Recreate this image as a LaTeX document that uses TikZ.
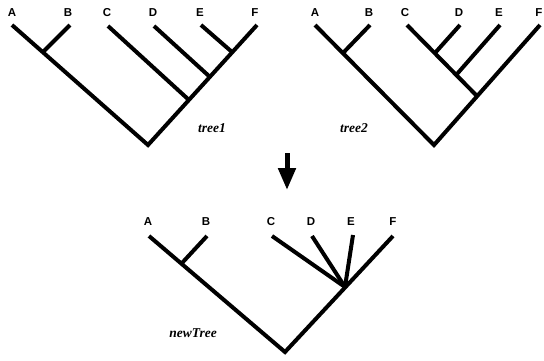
\documentclass[tikz,border=0pt]{standalone}
\usepackage{fontspec}
\newfontfamily\leaffont{Liberation Sans}
\newfontfamily\treefont{Liberation Serif}
\usetikzlibrary{arrows.meta}
\tikzset{
  branch/.style={line width=4pt, line cap=butt, line join=miter},
  leaf/.style={font=\leaffont\bfseries\fontsize{11.5}{13}\selectfont, inner sep=0pt, anchor=center},
  tname/.style={font=\treefont\bfseries\itshape\fontsize{13.5}{15}\selectfont, inner sep=0pt, anchor=center},
  bigarrow/.style={line width=5pt, -{Triangle[length=22pt,width=17pt]}}
}
\begin{document}
\begin{tikzpicture}[x=1pt,y=-1pt]
\useasboundingbox (0,0) rectangle (544,360);
% ---------- tree1 ----------
\coordinate (A1) at (12,25);
\coordinate (B1) at (70,25);
\coordinate (C1) at (108,26);
\coordinate (D1) at (154,26);
\coordinate (E1) at (201,25);
\coordinate (F1) at (257,25);
\coordinate (R1) at (148,145);
\coordinate (AB1) at (43,52);
\coordinate (EF1) at (232,52);
\coordinate (DJ1) at (210,77);
\coordinate (CJ1) at (189,100);
\node[leaf] (lA1) at (12,13) {A};
\node[leaf] (lB1) at (68,13) {B};
\node[leaf] (lC1) at (107,13) {C};
\node[leaf] (lD1) at (153,13) {D};
\node[leaf] (lE1) at (200,13) {E};
\node[leaf] (lF1) at (255,13) {F};
\draw[branch] (A1) -- (R1) -- (F1);
\draw[branch] (B1) -- (AB1);
\draw[branch] (C1) -- (CJ1);
\draw[branch] (D1) -- (DJ1);
\draw[branch] (E1) -- (EF1);
\node[tname] (t1) at (212,128) {tree1};
% ---------- tree2 ----------
\coordinate (A2) at (315,25);
\coordinate (B2) at (370,25);
\coordinate (C2) at (407,25);
\coordinate (D2) at (460,25);
\coordinate (E2) at (500,25);
\coordinate (F2) at (540,25);
\coordinate (R2) at (434,145);
\coordinate (AB2) at (343,53);
\coordinate (CDE2) at (477,96);
\coordinate (DJ2) at (435,53);
\coordinate (EJ2) at (457,74);
\node[leaf] (lA2) at (315,13) {A};
\node[leaf] (lB2) at (369,13) {B};
\node[leaf] (lC2) at (405,13) {C};
\node[leaf] (lD2) at (459,13) {D};
\node[leaf] (lE2) at (499,13) {E};
\node[leaf] (lF2) at (539,13) {F};
\draw[branch] (A2) -- (R2) -- (F2);
\draw[branch] (B2) -- (AB2);
\draw[branch] (C2) -- (CDE2);
\draw[branch] (D2) -- (DJ2);
\draw[branch] (E2) -- (EJ2);
\node[tname] (t2) at (354,128) {tree2};
% ---------- arrow ----------
\coordinate (arT) at (287,153);
\coordinate (arB) at (287,190);
\draw[bigarrow] (arT) -- (arB);
% ---------- newTree ----------
\coordinate (A3) at (149,236);
\coordinate (B3) at (207,236);
\coordinate (C3) at (272,236);
\coordinate (D3) at (312,236);
\coordinate (E3) at (353,235);
\coordinate (F3) at (393,236);
\coordinate (R3) at (285,352);
\coordinate (AB3) at (182,263);
\coordinate (H3) at (345,287);
\node[leaf] (lA3) at (148,222) {A};
\node[leaf] (lB3) at (206,222) {B};
\node[leaf] (lC3) at (271,222) {C};
\node[leaf] (lD3) at (311,222) {D};
\node[leaf] (lE3) at (351,222) {E};
\node[leaf] (lF3) at (393,222) {F};
\draw[branch] (A3) -- (R3) -- (F3);
\draw[branch] (B3) -- (AB3);
\draw[branch] (C3) -- (H3);
\draw[branch] (D3) -- (H3);
\draw[branch] (E3) -- (H3);
\node[tname] (t3) at (193,333) {newTree};
\end{tikzpicture}
\end{document}
